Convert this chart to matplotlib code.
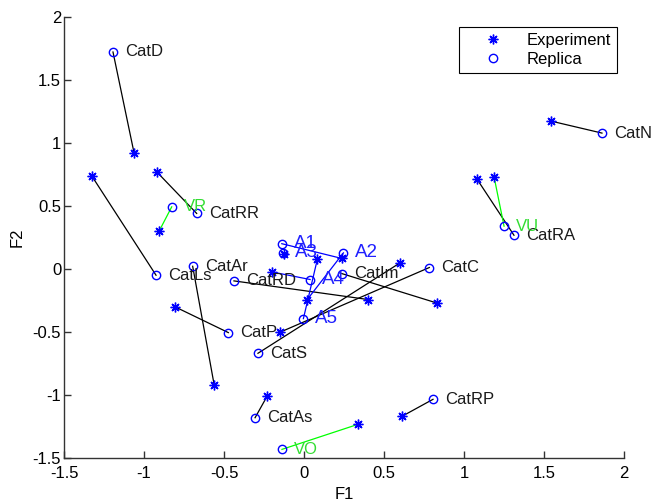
import matplotlib
matplotlib.use("Agg")
import matplotlib.pyplot as plt

plt.rcParams["font.family"] = ["Liberation Sans", "DejaVu Sans"]

# Stimulus names and their group (drives line / label colour)
labels = ["CatD", "CatRR", "VR", "CatLs", "CatAr", "CatRD", "CatP", "CatS",
          "CatC", "CatIm", "CatN", "CatRA", "VU", "CatAs", "CatRP", "VO",
          "A1", "A2", "A3", "A4", "A5"]
groups = ["Cat", "Cat", "V", "Cat", "Cat", "Cat", "Cat", "Cat",
          "Cat", "Cat", "Cat", "Cat", "V", "Cat", "Cat", "V",
          "A", "A", "A", "A", "A"]

# Experiment coordinates (F1, F2)
exp_f1 = [-1.062, -0.917, -0.906, -1.327, -0.562, 0.402, -0.804, 0.600,
          -0.150, 0.829, 1.544, 1.081, 1.188, -0.231, 0.612, 0.338,
          0.236, 0.017, -0.128, -0.200, 0.083]
exp_f2 = [0.918, 0.765, 0.299, 0.738, -0.917, -0.243, -0.302, 0.048,
          -0.502, -0.270, 1.172, 0.712, 0.728, -1.010, -1.169, -1.232,
          0.083, -0.248, 0.122, -0.024, 0.075]

# Replica coordinates (F1, F2)
rep_f1 = [-1.194, -0.671, -0.827, -0.925, -0.696, -0.438, -0.473, -0.288,
          0.783, 0.236, 1.862, 1.312, 1.250, -0.306, 0.806, -0.138,
          -0.139, 0.246, -0.129, 0.038, -0.004]
rep_f2 = [1.720, 0.440, 0.492, -0.050, 0.021, -0.095, -0.505, -0.669,
          0.011, -0.037, 1.077, 0.267, 0.339, -1.180, -1.034, -1.431,
          0.200, 0.127, 0.127, -0.084, -0.394]

group_colors = {"Cat": "black", "V": "#00ff00", "A": "blue"}
label_colors = {"Cat": "#1a1a1a", "V": "#33dd33", "A": "#2020ff"}
label_sizes = {"Cat": 12, "V": 12, "A": 13.5}

fig = plt.figure(figsize=(6.54, 5.04), dpi=100)
ax = fig.add_axes([0.0979, 0.0911, 0.8563, 0.8758])

# connecting segments between experiment and replica
for i in range(len(labels)):
    ax.plot([exp_f1[i], rep_f1[i]], [exp_f2[i], rep_f2[i]],
            color=group_colors[groups[i]], lw=0.9, zorder=2)

ax.plot(exp_f1, exp_f2, linestyle="none", marker=(8, 2, 0), markersize=7,
        markeredgecolor="blue", markeredgewidth=1.0, color="blue",
        label="Experiment", zorder=3)
ax.plot(rep_f1, rep_f2, linestyle="none", marker="o", markersize=6,
        markerfacecolor="none", markeredgecolor="blue", markeredgewidth=1.0,
        label="Replica", zorder=3)

for i, name in enumerate(labels):
    ax.text(rep_f1[i] + 0.075, rep_f2[i], name,
            fontsize=label_sizes[groups[i]],
            color=label_colors[groups[i]], ha="left", va="center",
            zorder=4)

ax.set_xlim(-1.5, 2)
ax.set_ylim(-1.5, 2)
ticks = [-1.5, -1, -0.5, 0, 0.5, 1, 1.5, 2]
tick_text = ["-1.5", "-1", "-0.5", "0", "0.5", "1", "1.5", "2"]
ax.set_xticks(ticks)
ax.set_xticklabels(tick_text)
ax.set_yticks(ticks)
ax.set_yticklabels(tick_text)

for side in ("top", "right"):
    ax.spines[side].set_visible(False)
for side in ("left", "bottom"):
    ax.spines[side].set_color("#333333")
    ax.spines[side].set_linewidth(1.0)

ax.tick_params(axis="x", direction="in", length=5, width=1.0,
               color="#333333", labelsize=12, pad=6)
ax.tick_params(axis="y", direction="in", length=5, width=1.0,
               color="#333333", labelsize=12, pad=2)

ax.set_xlabel("F1", fontsize=12, labelpad=4)
ax.set_ylabel("F2", fontsize=12, labelpad=6)

leg = ax.legend(loc="upper right", bbox_to_anchor=(0.9875, 0.9767),
                borderaxespad=0, fontsize=12, numpoints=1,
                handlelength=3.4, handletextpad=0.35, borderpad=0.35,
                labelspacing=0.25, fancybox=False, framealpha=1,
                edgecolor="black")
leg.get_frame().set_linewidth(0.8)

fig.savefig("out.png", dpi=100)
